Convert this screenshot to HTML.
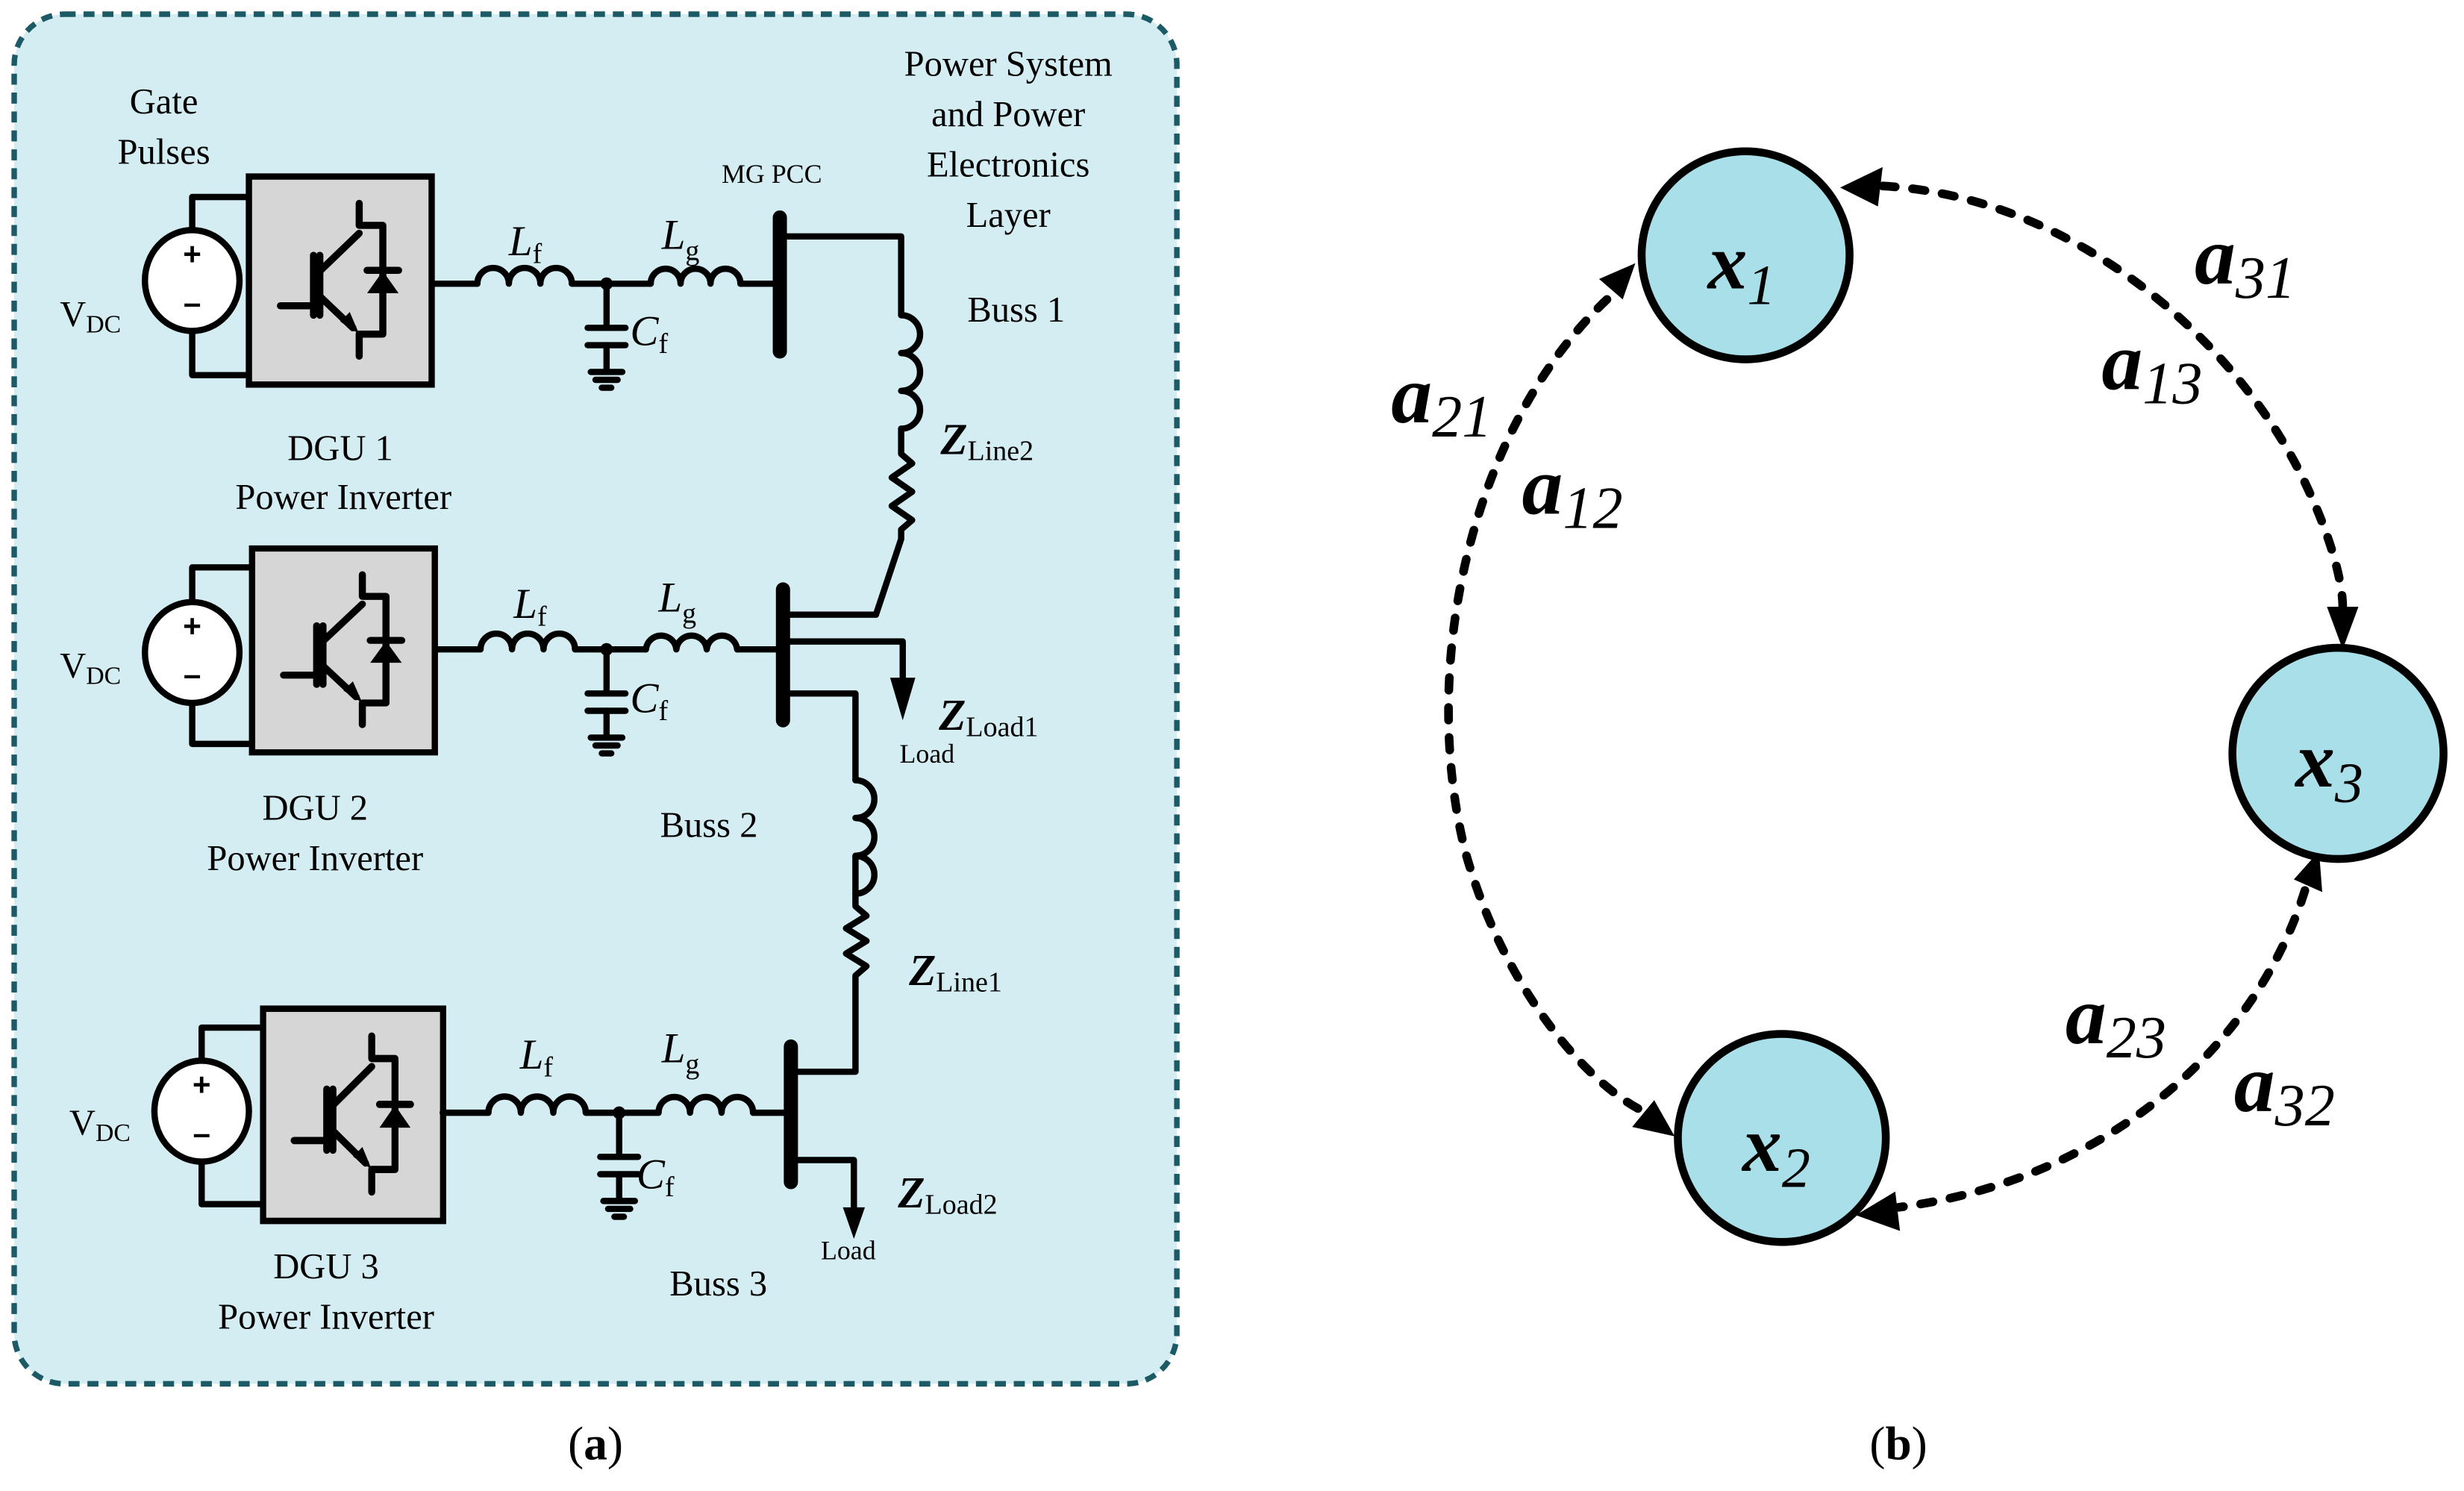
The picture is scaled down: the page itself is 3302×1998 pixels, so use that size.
<!DOCTYPE html>
<html><head><meta charset="utf-8">
<style>
html,body{margin:0;padding:0;background:#fff;}
svg{display:block;}
text{font-family:"Liberation Serif",serif;fill:#000;}
</style></head>
<body>
<svg width="3302" height="1998" viewBox="0 0 1564 946" preserveAspectRatio="none" xmlns="http://www.w3.org/2000/svg">
<defs>
  <g id="igbt">
    <rect x="0" y="0" width="116" height="132" fill="#d6d6d6" stroke="#000" stroke-width="4"/>
    <g stroke="#000" stroke-width="4.5" fill="none" stroke-linecap="round" stroke-linejoin="round">
      <polyline points="70,17 70,31 85,31 85,100 70,100 70,114"/>
      <line x1="70" y1="36" x2="45" y2="60"/>
      <line x1="45" y1="76" x2="66" y2="96"/>
      <line x1="41" y1="50" x2="41" y2="88"/>
      <line x1="45" y1="50" x2="45" y2="88"/>
      <polyline points="20,82 41,82"/>
      <line x1="75" y1="59.5" x2="95" y2="59.5"/>
    </g>
    <polygon points="75,74 95,74 85,60" fill="#000"/>
    <polygon points="70,100 58,92 64,86" fill="#000"/>
  </g>
</defs>

<rect x="9" y="9" width="738" height="869" rx="32" ry="32" fill="#d4edf2" stroke="#1c5b66" stroke-width="3.5" stroke-dasharray="7,5"/>

<g stroke="#000" stroke-width="4" fill="none" stroke-linecap="round" stroke-linejoin="round">
  <polyline points="122,146 122,125 158,125"/>
  <polyline points="122,210 122,238 158,238"/>
  <polyline points="122,382 122,360 160,360"/>
  <polyline points="122,447 122,472 160,472"/>
  <polyline points="128,672 128,652 167,652"/>
  <polyline points="128,738 128,764 167,764"/>
</g>

<g stroke="#000" stroke-width="4" fill="#fff">
  <ellipse cx="122" cy="178" rx="30" ry="32"/>
  <ellipse cx="122" cy="414" rx="30" ry="32"/>
  <ellipse cx="128" cy="705" rx="30" ry="32"/>
</g>
<g font-weight="bold">
  <text x="122" y="168" font-size="20" text-anchor="middle" style="font-family:'Liberation Sans',sans-serif">+</text>
  <text x="122" y="199" font-size="20" text-anchor="middle" style="font-family:'Liberation Sans',sans-serif">–</text>
  <text x="122" y="404" font-size="20" text-anchor="middle" style="font-family:'Liberation Sans',sans-serif">+</text>
  <text x="122" y="435" font-size="20" text-anchor="middle" style="font-family:'Liberation Sans',sans-serif">–</text>
  <text x="128" y="695" font-size="20" text-anchor="middle" style="font-family:'Liberation Sans',sans-serif">+</text>
  <text x="128" y="726" font-size="20" text-anchor="middle" style="font-family:'Liberation Sans',sans-serif">–</text>
</g>

<use href="#igbt" transform="translate(158,112)"/>
<use href="#igbt" transform="translate(160,348) scale(1,0.98)"/>
<use href="#igbt" transform="translate(167,640) scale(0.985,1.02)"/>

<g stroke="#000" stroke-width="4" fill="none" stroke-linecap="round" stroke-linejoin="round">
  <line x1="275" y1="180" x2="303" y2="180"/>
  <path d="M303,180 a10,10 0 0 1 20,0 a10,10 0 0 1 20,0 a10,10 0 0 1 20,0"/>
  <line x1="363" y1="180" x2="413" y2="180"/>
  <path d="M413,180 a9.5,9.5 0 0 1 19,0 a9.5,9.5 0 0 1 19,0 a9.5,9.5 0 0 1 19,0"/>
  <line x1="470" y1="180" x2="495" y2="180"/>
  <line x1="385" y1="180" x2="385" y2="208"/>
  <line x1="385" y1="219" x2="385" y2="236"/>
  <line x1="276" y1="412" x2="305" y2="412"/>
  <path d="M305,412 a10,10 0 0 1 20,0 a10,10 0 0 1 20,0 a10,10 0 0 1 20,0"/>
  <line x1="365" y1="412" x2="410" y2="412"/>
  <path d="M410,412 a9.7,9.7 0 0 1 19.3,0 a9.7,9.7 0 0 1 19.3,0 a9.7,9.7 0 0 1 19.3,0"/>
  <line x1="468" y1="412" x2="497" y2="412"/>
  <line x1="385" y1="412" x2="385" y2="440"/>
  <line x1="385" y1="451" x2="385" y2="468"/>
  <line x1="281" y1="706" x2="310" y2="706"/>
  <path d="M310,706 a10.3,10.3 0 0 1 20.6,0 a10.3,10.3 0 0 1 20.6,0 a10.3,10.3 0 0 1 20.6,0"/>
  <line x1="372" y1="706" x2="418" y2="706"/>
  <path d="M418,706 a10,10 0 0 1 20,0 a10,10 0 0 1 20,0 a10,10 0 0 1 20,0"/>
  <line x1="478" y1="706" x2="502" y2="706"/>
  <line x1="393" y1="706" x2="393" y2="734"/>
  <line x1="393" y1="745" x2="393" y2="762"/>

  <polyline points="495,150 572,150 572,200"/>
  <path d="M572,200 a12,12 0 0 1 0,24 a12,12 0 0 1 0,24 a12,12 0 0 1 0,24"/>
  <polyline points="572,272 572,288 579,294 566,303 579,312 566,321 579,330 572,336 572,342 556,390 497,390"/>
  <polyline points="497,407 573,407 573,432"/>
  <polyline points="497,440 543,440 543,495"/>
  <path d="M543,495 a12,12 0 0 1 0,24 a12,12 0 0 1 0,24 a12,12 0 0 1 0,24"/>
  <polyline points="543,543 543,575 550,581 537,589 550,597 537,605 550,613 543,619 543,680 502,680"/>
  <polyline points="502,736 542,736 542,768"/>
</g>
<g stroke="#000" stroke-width="4" stroke-linecap="round">
  <line x1="373" y1="208" x2="397" y2="208"/><line x1="373" y1="219" x2="397" y2="219"/>
  <line x1="375" y1="236" x2="395" y2="236"/><line x1="378" y1="241" x2="392" y2="241"/><line x1="382" y1="246" x2="388" y2="246"/>
  <line x1="373" y1="440" x2="397" y2="440"/><line x1="373" y1="451" x2="397" y2="451"/>
  <line x1="375" y1="468" x2="395" y2="468"/><line x1="378" y1="473" x2="392" y2="473"/><line x1="382" y1="478" x2="388" y2="478"/>
  <line x1="381" y1="734" x2="405" y2="734"/><line x1="381" y1="745" x2="405" y2="745"/>
  <line x1="383" y1="762" x2="403" y2="762"/><line x1="386" y1="767" x2="400" y2="767"/><line x1="390" y1="772" x2="396" y2="772"/>
</g>
<g fill="#000">
  <circle cx="385" cy="180" r="4"/><circle cx="385" cy="412" r="4"/><circle cx="393" cy="706" r="4"/>
  <polygon points="565,430 581,430 573,457"/>
  <polygon points="535,766 549,766 542,786"/>
</g>
<g stroke="#000" stroke-width="9" stroke-linecap="round">
  <line x1="495" y1="138" x2="495" y2="223"/>
  <line x1="497" y1="374" x2="497" y2="457"/>
  <line x1="502" y1="664" x2="502" y2="750"/>
</g>

<g font-size="23">
  <text x="104" y="72" text-anchor="middle">Gate</text>
  <text x="104" y="104" text-anchor="middle">Pulses</text>
  <text x="38" y="207">V<tspan font-size="16" dy="4">DC</tspan></text>
  <text x="38" y="430">V<tspan font-size="16" dy="4">DC</tspan></text>
  <text x="44" y="720">V<tspan font-size="16" dy="4">DC</tspan></text>
  <text x="216" y="292" text-anchor="middle">DGU 1</text>
  <text x="218" y="323" text-anchor="middle">Power Inverter</text>
  <text x="200" y="520" text-anchor="middle">DGU 2</text>
  <text x="200" y="552" text-anchor="middle">Power Inverter</text>
  <text x="207" y="811" text-anchor="middle">DGU 3</text>
  <text x="207" y="843" text-anchor="middle">Power Inverter</text>
  <text x="640" y="48" text-anchor="middle">Power System</text>
  <text x="640" y="80" text-anchor="middle">and Power</text>
  <text x="640" y="112" text-anchor="middle">Electronics</text>
  <text x="640" y="144" text-anchor="middle">Layer</text>
  <text x="645" y="204" text-anchor="middle">Buss 1</text>
  <text x="450" y="531" text-anchor="middle">Buss 2</text>
  <text x="456" y="822" text-anchor="middle">Buss 3</text>
</g>
<text x="458" y="116" font-size="17">MG PCC</text>
<g font-size="27" font-style="italic">
  <text x="323" y="162">L<tspan font-style="normal" font-size="18" dy="5">f</tspan></text>
  <text x="420" y="158">L<tspan font-style="normal" font-size="18" dy="7">g</tspan></text>
  <text x="400" y="219">C<tspan font-style="normal" font-size="18" dy="5">f</tspan></text>
  <text x="326" y="392">L<tspan font-style="normal" font-size="18" dy="5">f</tspan></text>
  <text x="418" y="388">L<tspan font-style="normal" font-size="18" dy="7">g</tspan></text>
  <text x="400" y="452">C<tspan font-style="normal" font-size="18" dy="5">f</tspan></text>
  <text x="330" y="678">L<tspan font-style="normal" font-size="18" dy="5">f</tspan></text>
  <text x="420" y="674">L<tspan font-style="normal" font-size="18" dy="7">g</tspan></text>
  <text x="404" y="754">C<tspan font-style="normal" font-size="18" dy="5">f</tspan></text>
</g>
<g font-size="28" font-weight="bold" font-style="italic">
  <text x="597" y="288">Z<tspan font-weight="normal" font-style="normal" font-size="18" dy="4">Line2</tspan></text>
  <text x="577" y="625">Z<tspan font-weight="normal" font-style="normal" font-size="18" dy="4">Line1</tspan></text>
  <text x="596" y="463">Z<tspan font-weight="normal" font-style="normal" font-size="18" dy="4">Load1</tspan></text>
  <text x="570" y="766">Z<tspan font-weight="normal" font-style="normal" font-size="18" dy="4">Load2</tspan></text>
</g>
<text x="571" y="484" font-size="17">Load</text>
<text x="521" y="799" font-size="17">Load</text>
<text x="378" y="926" font-size="30" text-anchor="middle">(<tspan font-weight="bold">a</tspan>)</text>
<text x="1205" y="926" font-size="30" text-anchor="middle">(<tspan font-weight="bold">b</tspan>)</text>

<g stroke="#000" stroke-width="5.5" fill="none" stroke-dasharray="8,11" stroke-linecap="round">
  <path d="M1195,118 C1320,125 1420,220 1460,300 C1480,340 1487,370 1487,385"/>
  <path d="M1020,190 C935,270 900,420 930,540 C955,630 1010,690 1045,706"/>
  <path d="M1463,565 C1430,670 1330,750 1205,766"/>
</g>
<g fill="#000">
  <polygon points="1168,119 1195,106 1192,131"/>
  <polygon points="1477,385 1497,385 1487,412"/>
  <polygon points="1038,167 1015,177 1030,190"/>
  <polygon points="1063,721 1036,715 1050,698"/>
  <polygon points="1472,540 1456,558 1474,566"/>
  <polygon points="1178,771 1203,756 1206,781"/>
</g>
<g stroke="#000" stroke-width="5" fill="#a8dfe8">
  <circle cx="1108" cy="162" r="66"/>
  <circle cx="1131" cy="722" r="66"/>
  <circle cx="1484" cy="478" r="67"/>
</g>
<g font-size="50" font-weight="bold" font-style="italic">
  <text x="1084" y="183">x<tspan font-weight="normal" font-size="36" dy="10">1</tspan></text>
  <text x="1106" y="743">x<tspan font-weight="normal" font-size="36" dy="10">2</tspan></text>
  <text x="1457" y="499">x<tspan font-weight="normal" font-size="36" dy="10">3</tspan></text>
</g>
<g font-size="52" font-weight="bold" font-style="italic">
  <text x="1393" y="180">a<tspan font-weight="normal" font-size="38" dy="9">31</tspan></text>
  <text x="1334" y="247">a<tspan font-weight="normal" font-size="38" dy="9">13</tspan></text>
  <text x="883" y="268">a<tspan font-weight="normal" font-size="38" dy="9">21</tspan></text>
  <text x="966" y="326">a<tspan font-weight="normal" font-size="38" dy="9">12</tspan></text>
  <text x="1311" y="662">a<tspan font-weight="normal" font-size="38" dy="9">23</tspan></text>
  <text x="1418" y="705">a<tspan font-weight="normal" font-size="38" dy="9">32</tspan></text>
</g>
</svg>
</body></html>
